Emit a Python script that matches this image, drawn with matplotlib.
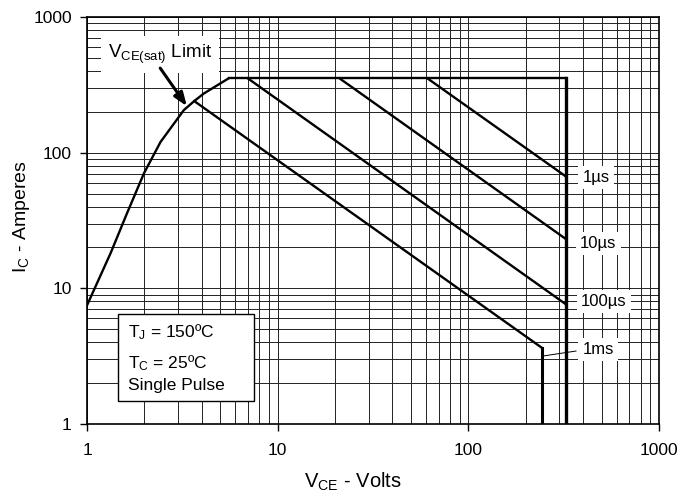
import matplotlib
matplotlib.use("Agg")
import matplotlib.pyplot as plt
from matplotlib.patches import Rectangle

plt.rcParams["font.family"] = ["Liberation Sans", "DejaVu Sans"]
plt.rcParams["mathtext.fontset"] = "custom"
plt.rcParams["mathtext.rm"] = "Liberation Sans"
plt.rcParams["mathtext.it"] = "Liberation Sans"

# VCE(sat) limit curve
vsat_v = [1.0, 1.33, 1.62, 1.99, 2.43, 3.22, 3.65, 4.1, 5.53]
vsat_i = [7.5, 18.2, 35.7, 70.6, 120, 206, 240, 273, 353]

# current limit (flat) and voltage limit (vertical)
top_v = [5.53, 326, 326]
top_i = [353, 353, 1.0]

# pulse-width lines
ms1_v = [3.65, 244, 244]
ms1_i = [240, 3.63, 1.0]
us100_v = [6.97, 326]
us100_i = [353, 7.6]
us10_v = [21.1, 326]
us10_i = [353, 23]
us1_v = [61, 326]
us1_i = [353, 66.5]

ticks = [1, 10, 100, 1000]
tick_labels = ["1", "10", "100", "1000"]

fig = plt.figure(figsize=(6.81, 4.94), dpi=100)
ax = fig.add_axes([0.1278, 0.1417, 0.8399, 0.8239])
ax.set_xscale("log")
ax.set_yscale("log")
ax.set_xlim(1, 1000)
ax.set_ylim(1, 1000)

ax.grid(True, which="both", color="#222222", linewidth=0.7)
ax.set_axisbelow(True)

lw = 1.7
ax.plot(vsat_v, vsat_i, color="black", lw=lw, zorder=3)
ax.plot(top_v[:2], top_i[:2], color="black", lw=lw, zorder=3)
ax.plot(top_v[1:], top_i[1:], color="black", lw=2.4, zorder=3)
ax.plot(ms1_v[:2], ms1_i[:2], color="black", lw=lw, zorder=3)
ax.plot(ms1_v[1:], ms1_i[1:], color="black", lw=2.2, zorder=3)
ax.plot(us100_v, us100_i, color="black", lw=lw, zorder=3)
ax.plot(us10_v, us10_i, color="black", lw=lw, zorder=3)
ax.plot(us1_v, us1_i, color="black", lw=lw, zorder=3)

ax.set_xticks(ticks)
ax.set_xticklabels(tick_labels)
ax.set_yticks(ticks)
ax.set_yticklabels(tick_labels)
ax.minorticks_on()
ax.tick_params(which="minor", length=0)
ax.tick_params(which="major", length=5, width=1, labelsize=12.5)
ax.tick_params(axis="x", pad=9)
ax.tick_params(axis="y", pad=6)
for s in ax.spines.values():
    s.set_linewidth(1.2)

ax.set_xlabel(r"V$_{\mathregular{CE}}$ - Volts", fontsize=14.5, labelpad=6)
ax.xaxis.set_label_coords(0.465, -0.115)
ax.set_ylabel(r"I$_{\mathregular{C}}$ - Amperes", fontsize=14)
ax.yaxis.set_label_coords(-0.097, 0.51)

lab_box = dict(facecolor="white", edgecolor="none", pad=3)
ax.text(468, 67, "1µs", fontsize=12, ha="center", va="center_baseline", bbox=lab_box, zorder=4)
ax.text(480, 21.9, "10µs", fontsize=12, ha="center", va="center_baseline", bbox=lab_box, zorder=4)
ax.text(512, 8.2, "100µs", fontsize=12, ha="center", va="center_baseline", bbox=lab_box, zorder=4)
ax.text(480, 3.63, "1ms", fontsize=12, ha="center", va="center_baseline", bbox=lab_box, zorder=4)
ax.plot([246, 367], [3.17, 3.45], color="black", lw=0.7, zorder=3)

ax.text(2.42, 498, r"V$_{\mathregular{CE(sat)}}$ Limit", fontsize=13.5,
        ha="center", va="baseline",
        bbox=dict(facecolor="white", edgecolor="none", pad=5), zorder=4)
ax.annotate("", xy=(3.34, 220), xytext=(2.42, 420), zorder=5,
            arrowprops=dict(arrowstyle="-|>,head_length=0.8,head_width=0.3",
                            color="black", lw=2.2, shrinkA=0, shrinkB=0))

# conditions box
ax.add_patch(Rectangle((0.054, 0.0565), 0.238, 0.2135, transform=ax.transAxes,
                       facecolor="white", edgecolor="black", lw=1, zorder=4))
ax.text(0.0717, 0.214, r"T$_{\mathregular{J}}$ = 150ºC", transform=ax.transAxes,
        fontsize=12.5, va="baseline", zorder=5)
ax.text(0.0717, 0.1376, r"T$_{\mathregular{C}}$ = 25ºC", transform=ax.transAxes,
        fontsize=12.5, va="baseline", zorder=5)
ax.text(0.0717, 0.0835, "Single Pulse", transform=ax.transAxes,
        fontsize=12.5, va="baseline", zorder=5)

fig.savefig("out.png", dpi=100)
